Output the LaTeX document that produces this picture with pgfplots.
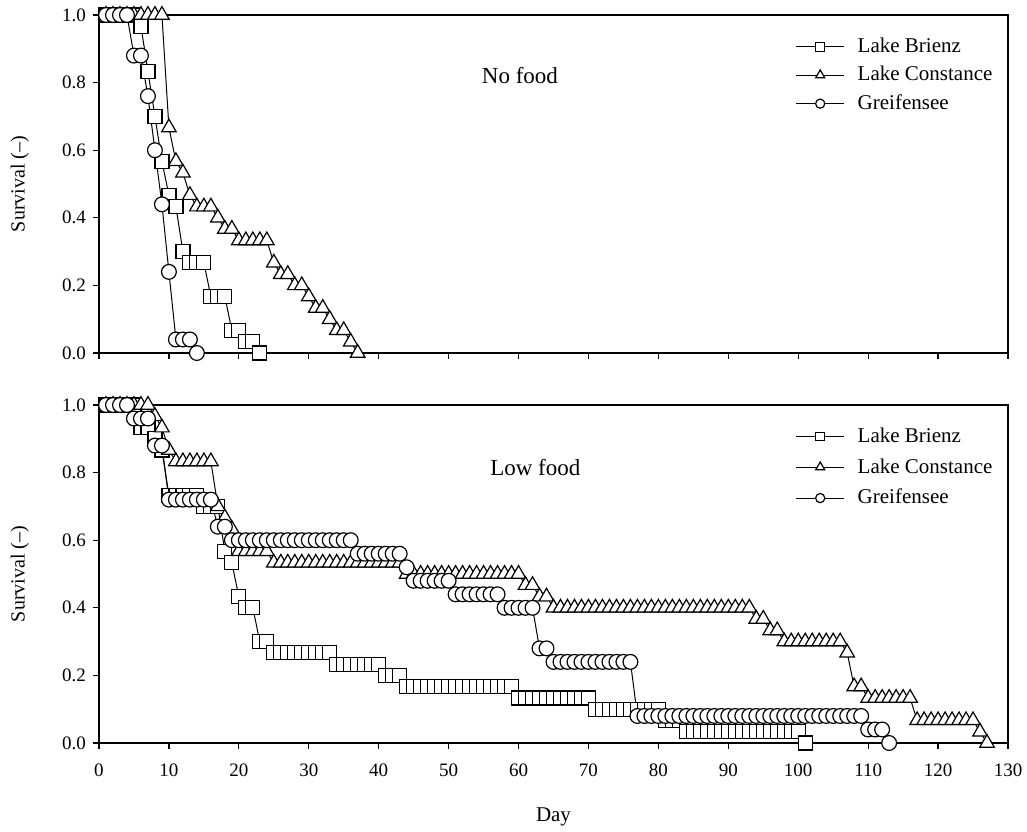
\documentclass[border=0pt]{standalone}
\usepackage{fontspec}
\setmainfont{Liberation Serif}
\usepackage{pgfplots}
\usepackage{pgfplotstable}
\pgfplotsset{compat=1.18}

% ---- No food ----
\pgfplotstableread[row sep=\\]{
day s\\
1 1\\ 2 1\\ 3 1\\ 4 1\\ 5 1\\ 6 0.967\\ 7 0.833\\ 8 0.700\\ 9 0.567\\ 10 0.467\\
11 0.433\\ 12 0.300\\ 13 0.267\\ 14 0.267\\ 15 0.267\\ 16 0.167\\ 17 0.167\\ 18 0.167\\
19 0.067\\ 20 0.067\\ 21 0.033\\ 22 0.033\\ 23 0\\
}\nfBrienz
\pgfplotstableread[row sep=\\]{
day s\\
1 1\\ 2 1\\ 3 1\\ 4 1\\ 5 1\\ 6 1\\ 7 1\\ 8 1\\ 9 1\\ 10 0.667\\ 11 0.567\\ 12 0.533\\
13 0.467\\ 14 0.433\\ 15 0.433\\ 16 0.433\\ 17 0.400\\ 18 0.367\\ 19 0.367\\
20 0.333\\ 21 0.333\\ 22 0.333\\ 23 0.333\\ 24 0.333\\ 25 0.267\\ 26 0.233\\ 27 0.233\\
28 0.200\\ 29 0.200\\ 30 0.167\\ 31 0.133\\ 32 0.133\\ 33 0.100\\ 34 0.067\\ 35 0.067\\
36 0.033\\ 37 0\\
}\nfConstance
\pgfplotstableread[row sep=\\]{
day s\\
1 1\\ 2 1\\ 3 1\\ 4 1\\ 5 0.88\\ 6 0.88\\ 7 0.76\\ 8 0.60\\ 9 0.44\\ 10 0.24\\
11 0.04\\ 12 0.04\\ 13 0.04\\ 14 0\\
}\nfGreifensee

% ---- Low food ----
\pgfplotstableread[row sep=\\]{
day s\\
1 1\\ 2 1\\ 3 1\\ 4 1\\ 5 1\\ 6 0.933\\ 7 0.933\\ 8 0.900\\ 9 0.867\\
10 0.733\\ 11 0.733\\ 12 0.733\\ 13 0.733\\ 14 0.733\\ 15 0.700\\ 16 0.700\\ 17 0.700\\
18 0.567\\ 19 0.533\\ 20 0.433\\ 21 0.400\\ 22 0.400\\ 23 0.300\\ 24 0.300\\
25 0.267\\ 26 0.267\\ 27 0.267\\ 28 0.267\\ 29 0.267\\ 30 0.267\\ 31 0.267\\ 32 0.267\\ 33 0.267\\
34 0.233\\ 35 0.233\\ 36 0.233\\ 37 0.233\\ 38 0.233\\ 39 0.233\\ 40 0.233\\
41 0.200\\ 42 0.200\\ 43 0.200\\
44 0.167\\ 45 0.167\\ 46 0.167\\ 47 0.167\\ 48 0.167\\ 49 0.167\\ 50 0.167\\ 51 0.167\\
52 0.167\\ 53 0.167\\ 54 0.167\\ 55 0.167\\ 56 0.167\\ 57 0.167\\ 58 0.167\\ 59 0.167\\
60 0.133\\ 61 0.133\\ 62 0.133\\ 63 0.133\\ 64 0.133\\ 65 0.133\\ 66 0.133\\ 67 0.133\\
68 0.133\\ 69 0.133\\ 70 0.133\\
71 0.100\\ 72 0.100\\ 73 0.100\\ 74 0.100\\ 75 0.100\\ 76 0.100\\ 77 0.100\\ 78 0.100\\
79 0.100\\ 80 0.100\\ 81 0.067\\ 82 0.067\\ 83 0.067\\
84 0.033\\ 85 0.033\\ 86 0.033\\ 87 0.033\\ 88 0.033\\ 89 0.033\\ 90 0.033\\ 91 0.033\\
92 0.033\\ 93 0.033\\ 94 0.033\\ 95 0.033\\ 96 0.033\\ 97 0.033\\ 98 0.033\\ 99 0.033\\
100 0.033\\ 101 0\\
}\lfBrienz
\pgfplotstableread[row sep=\\]{
day s\\
1 1\\ 2 1\\ 3 1\\ 4 1\\ 5 1\\ 6 1\\ 7 1\\ 8 0.967\\ 9 0.933\\ 10 0.867\\
11 0.833\\ 12 0.833\\ 13 0.833\\ 14 0.833\\ 15 0.833\\ 16 0.833\\
17 0.700\\ 18 0.667\\ 19 0.633\\ 20 0.567\\ 21 0.567\\ 22 0.567\\ 23 0.567\\ 24 0.567\\
25 0.533\\ 26 0.533\\ 27 0.533\\ 28 0.533\\ 29 0.533\\ 30 0.533\\ 31 0.533\\ 32 0.533\\
33 0.533\\ 34 0.533\\ 35 0.533\\ 36 0.533\\ 37 0.533\\ 38 0.533\\ 39 0.533\\ 40 0.533\\
41 0.533\\ 42 0.533\\ 43 0.533\\
44 0.500\\ 45 0.500\\ 46 0.500\\ 47 0.500\\ 48 0.500\\ 49 0.500\\ 50 0.500\\ 51 0.500\\
52 0.500\\ 53 0.500\\ 54 0.500\\ 55 0.500\\ 56 0.500\\ 57 0.500\\ 58 0.500\\ 59 0.500\\
60 0.500\\ 61 0.467\\ 62 0.467\\ 63 0.433\\ 64 0.433\\
65 0.400\\ 66 0.400\\ 67 0.400\\ 68 0.400\\ 69 0.400\\ 70 0.400\\ 71 0.400\\ 72 0.400\\
73 0.400\\ 74 0.400\\ 75 0.400\\ 76 0.400\\ 77 0.400\\ 78 0.400\\ 79 0.400\\ 80 0.400\\
81 0.400\\ 82 0.400\\ 83 0.400\\ 84 0.400\\ 85 0.400\\ 86 0.400\\ 87 0.400\\ 88 0.400\\
89 0.400\\ 90 0.400\\ 91 0.400\\ 92 0.400\\ 93 0.400\\
94 0.367\\ 95 0.367\\ 96 0.333\\ 97 0.333\\
98 0.300\\ 99 0.300\\ 100 0.300\\ 101 0.300\\ 102 0.300\\ 103 0.300\\ 104 0.300\\ 105 0.300\\ 106 0.300\\
107 0.267\\ 108 0.167\\ 109 0.167\\
110 0.133\\ 111 0.133\\ 112 0.133\\ 113 0.133\\ 114 0.133\\ 115 0.133\\ 116 0.133\\
117 0.067\\ 118 0.067\\ 119 0.067\\ 120 0.067\\ 121 0.067\\ 122 0.067\\ 123 0.067\\ 124 0.067\\ 125 0.067\\
126 0.033\\ 127 0\\
}\lfConstance
\pgfplotstableread[row sep=\\]{
day s\\
1 1\\ 2 1\\ 3 1\\ 4 1\\ 5 0.96\\ 6 0.96\\ 7 0.96\\ 8 0.88\\ 9 0.88\\
10 0.72\\ 11 0.72\\ 12 0.72\\ 13 0.72\\ 14 0.72\\ 15 0.72\\ 16 0.72\\ 17 0.64\\ 18 0.64\\
19 0.60\\ 20 0.60\\ 21 0.60\\ 22 0.60\\ 23 0.60\\ 24 0.60\\ 25 0.60\\ 26 0.60\\ 27 0.60\\
28 0.60\\ 29 0.60\\ 30 0.60\\ 31 0.60\\ 32 0.60\\ 33 0.60\\ 34 0.60\\ 35 0.60\\ 36 0.60\\
37 0.56\\ 38 0.56\\ 39 0.56\\ 40 0.56\\ 41 0.56\\ 42 0.56\\ 43 0.56\\ 44 0.52\\
45 0.48\\ 46 0.48\\ 47 0.48\\ 48 0.48\\ 49 0.48\\ 50 0.48\\
51 0.44\\ 52 0.44\\ 53 0.44\\ 54 0.44\\ 55 0.44\\ 56 0.44\\ 57 0.44\\
58 0.40\\ 59 0.40\\ 60 0.40\\ 61 0.40\\ 62 0.40\\ 63 0.28\\ 64 0.28\\
65 0.24\\ 66 0.24\\ 67 0.24\\ 68 0.24\\ 69 0.24\\ 70 0.24\\ 71 0.24\\ 72 0.24\\
73 0.24\\ 74 0.24\\ 75 0.24\\ 76 0.24\\
77 0.08\\ 78 0.08\\ 79 0.08\\ 80 0.08\\ 81 0.08\\ 82 0.08\\ 83 0.08\\ 84 0.08\\ 85 0.08\\
86 0.08\\ 87 0.08\\ 88 0.08\\ 89 0.08\\ 90 0.08\\ 91 0.08\\ 92 0.08\\ 93 0.08\\ 94 0.08\\
95 0.08\\ 96 0.08\\ 97 0.08\\ 98 0.08\\ 99 0.08\\ 100 0.08\\ 101 0.08\\ 102 0.08\\ 103 0.08\\
104 0.08\\ 105 0.08\\ 106 0.08\\ 107 0.08\\ 108 0.08\\ 109 0.08\\
110 0.04\\ 111 0.04\\ 112 0.04\\ 113 0\\
}\lfGreifensee

\pgfplotsset{
  panel/.style={
    scale only axis, width=454.5pt, height=169pt,
    xmin=0, xmax=130, ymin=0, ymax=1,
    xtick={0,10,...,130}, ytick={0,0.2,0.4,0.6,0.8,1},
    tick pos=left, tick align=outside, major tick length=3pt,
    yticklabel style={/pgf/number format/.cd, fixed, fixed zerofill, precision=1},
    /pgf/number format/assume math mode=true,
    tick label style={font=\fontsize{9.5}{11}\selectfont},
    xticklabel style={yshift=-4pt},
    axis line style={line width=0.6pt},
    every tick/.style={line width=0.6pt, black},
    ylabel={Survival (–)},
    ylabel style={at={(axis description cs:-0.087,0.5)}, anchor=center, rotate=0,
      font=\fontsize{10}{12}\selectfont},
    legend style={draw=none, fill=none, font=\fontsize{10.5}{12}\selectfont,
      anchor=north west, inner sep=0pt},
    legend cell align=left,
    legend image code/.code={
      \draw[##1, mark=none] (0pt,0pt) -- (24pt,0pt);
      \draw[##1, every mark/.append style={scale=0.62}] plot coordinates {(12pt,0pt)};
      \path (28.5pt,0pt);
    },
    clip=false,
  },
  sq/.style={black, line width=0.5pt, mark=square*, mark size=3.5pt,
    mark options={fill=white, line width=0.6pt}},
  tri/.style={black, line width=0.5pt, mark=triangle*, mark size=4.2pt,
    mark options={fill=white, line width=0.6pt}},
  circ/.style={black, line width=0.5pt, mark=*, mark size=3.7pt,
    mark options={fill=white, line width=0.6pt}},
}

\begin{document}
\begin{tikzpicture}
\begin{axis}[panel, name=top, xticklabels={},
  legend style={at={(rel axis cs:0.766,0.945)}, row sep=1.4pt}]
\addplot[sq] table[x=day, y=s] {\nfBrienz};
\addplot[tri] table[x=day, y=s] {\nfConstance};
\addplot[circ] table[x=day, y=s] {\nfGreifensee};
\legend{Lake Brienz, Lake Constance, Greifensee}
\node[font=\fontsize{11.5}{13}\selectfont] at (axis cs:60.2,0.822) {No food};
\end{axis}

\begin{axis}[panel, name=bot, at={(top.south west)}, anchor=north west, yshift=-26pt,
  xlabel={Day},
  xlabel style={at={(axis description cs:0.5,0)}, anchor=center, yshift=-37pt,
    font=\fontsize{10.5}{12}\selectfont},
  legend style={at={(rel axis cs:0.766,0.946)}, row sep=2.6pt}]
\addplot[sq] table[x=day, y=s] {\lfBrienz};
\addplot[tri] table[x=day, y=s] {\lfConstance};
\addplot[circ] table[x=day, y=s] {\lfGreifensee};
\legend{Lake Brienz, Lake Constance, Greifensee}
\node[font=\fontsize{11.5}{13}\selectfont] at (axis cs:62.4,0.814) {Low food};
\end{axis}

\pgfresetboundingbox
\path (top.north west) ++(-49.5pt,7.5pt) coordinate (bbA);
\path (bot.south east) ++(9.5pt,-44pt) coordinate (bbB);
\useasboundingbox (bbA) rectangle (bbB);
\end{tikzpicture}
\end{document}
